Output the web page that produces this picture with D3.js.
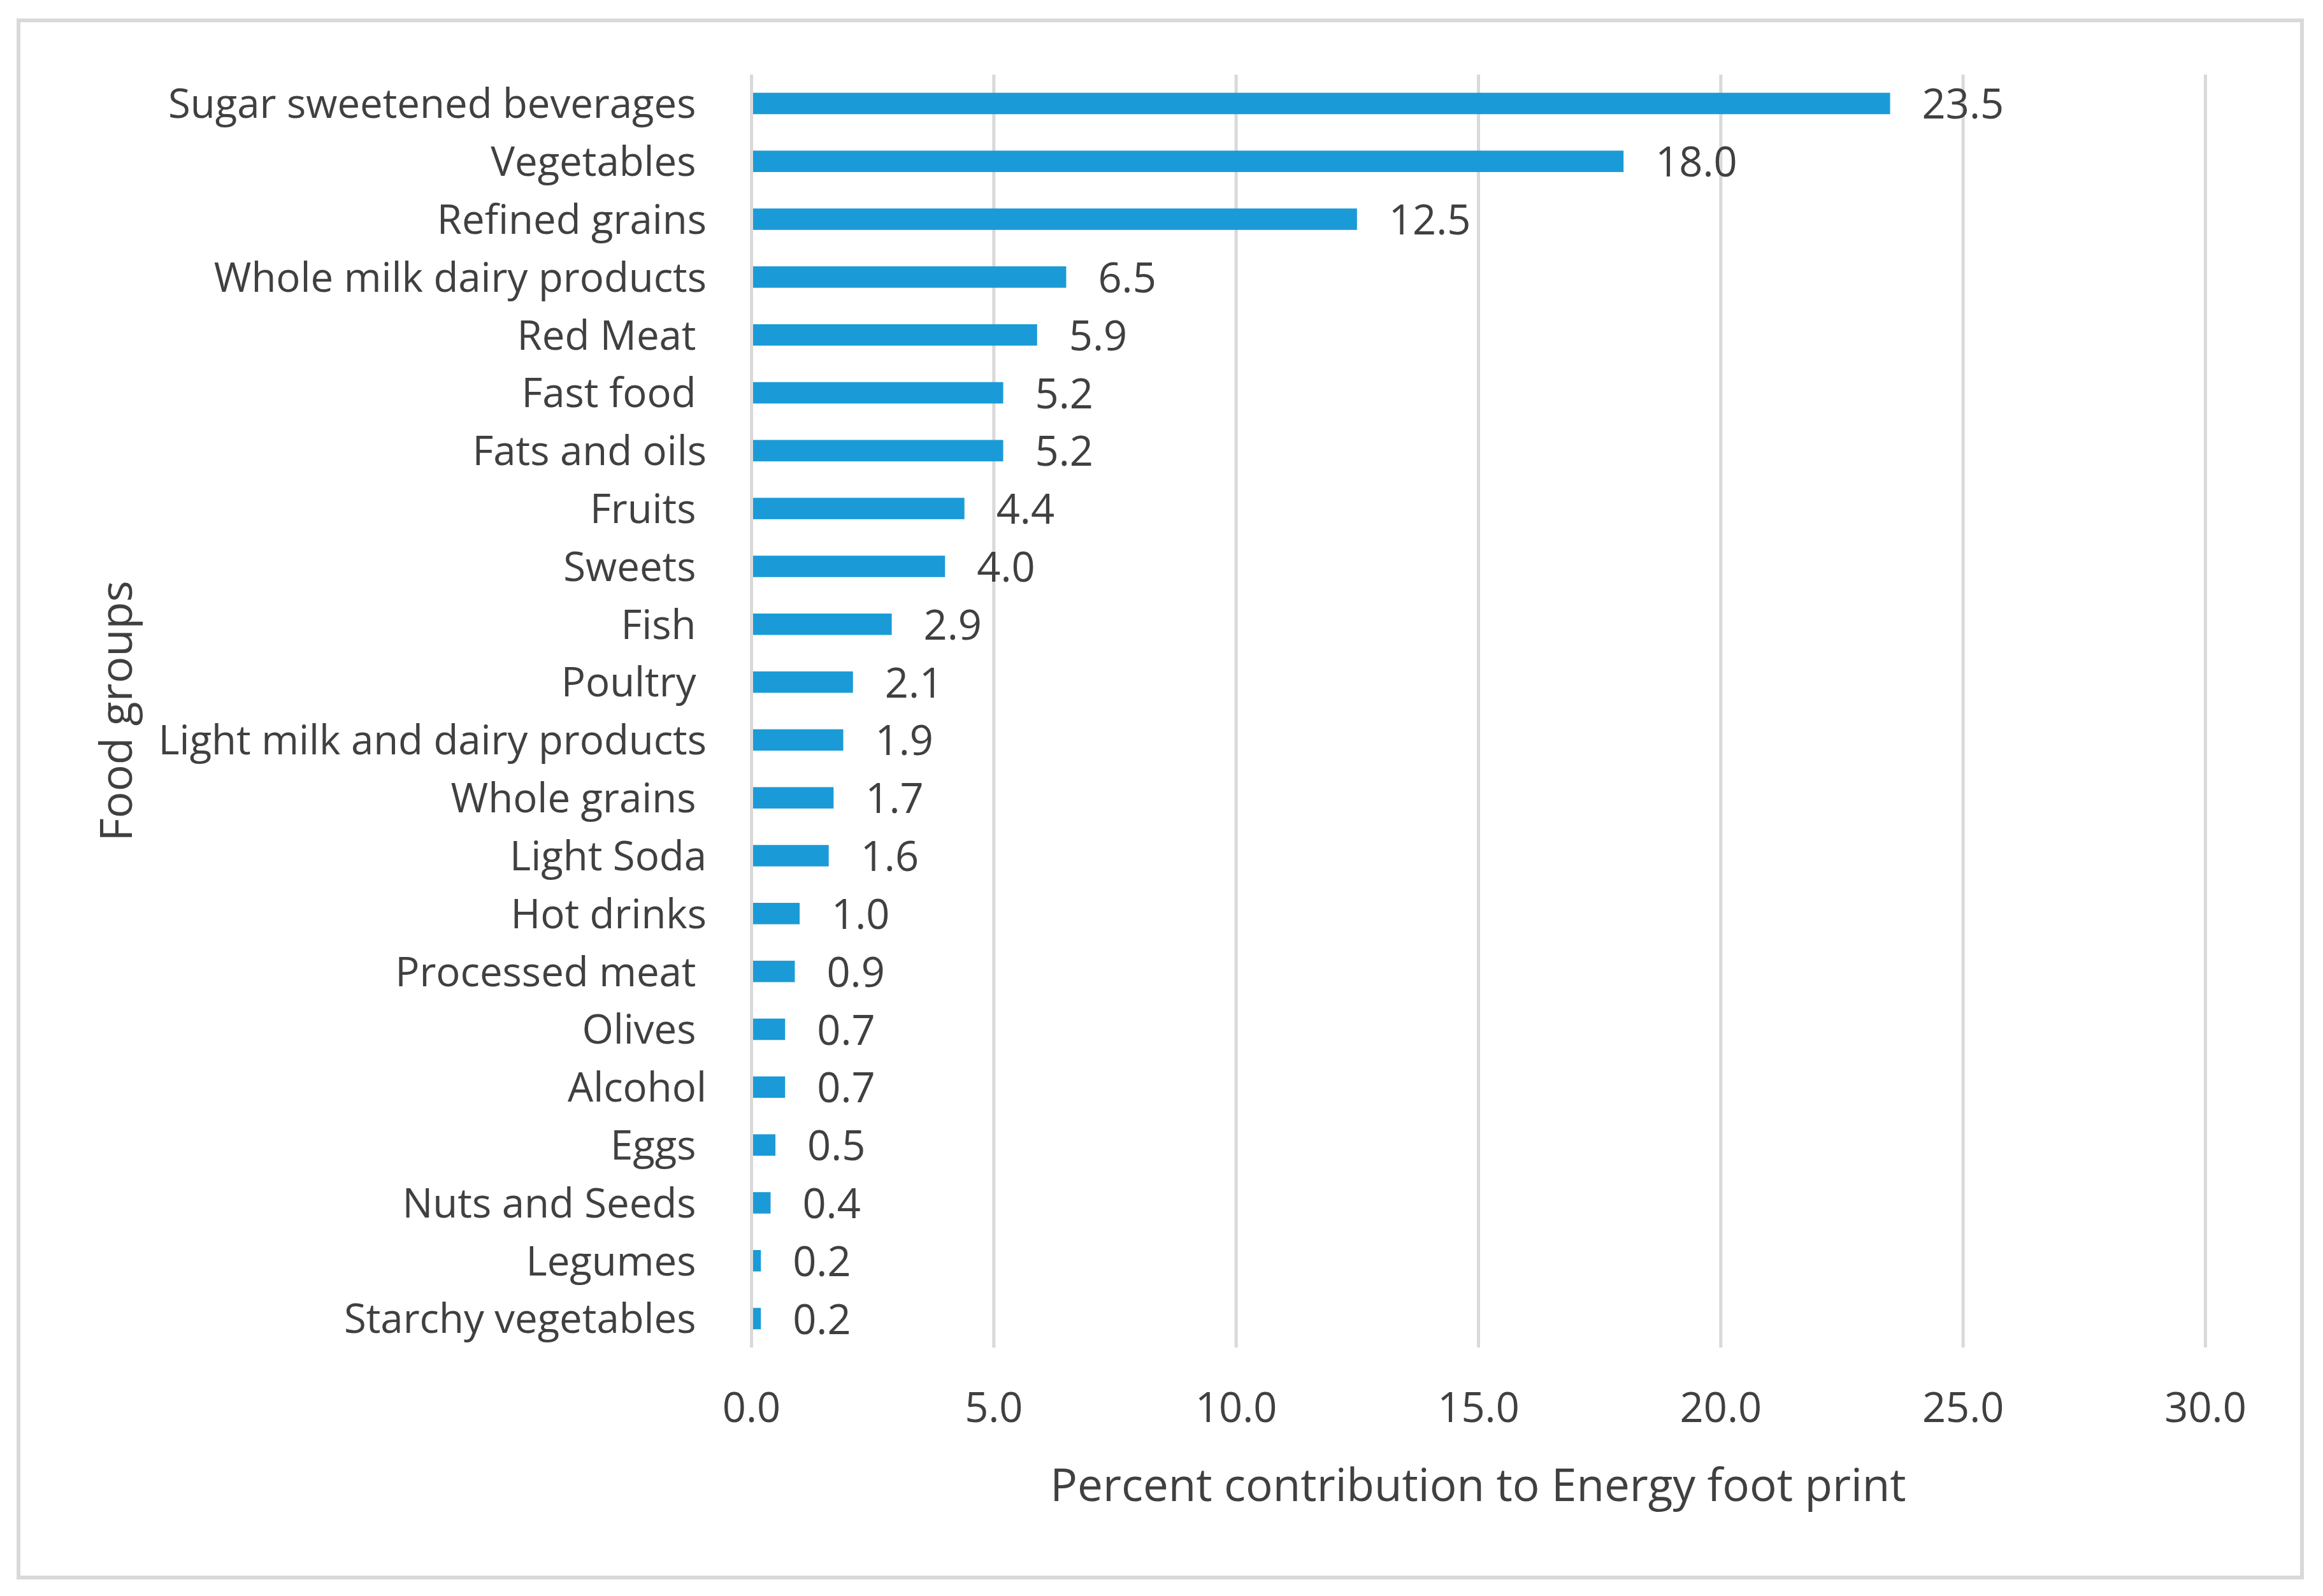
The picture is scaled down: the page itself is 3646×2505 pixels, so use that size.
<!DOCTYPE html>
<html>
<head>
<meta charset="utf-8">
<script src="https://cdn.jsdelivr.net/npm/d3@7/dist/d3.min.js"></script>
<style>
  html, body { margin: 0; padding: 0; background: #ffffff; }
  svg { display: block; }
  text { font-family: "Open Sans", "Noto Sans", sans-serif; fill: #404040; white-space: pre; }
</style>
</head>
<body>
<script>
// ---- Data ----
const categories = [
  "Sugar sweetened beverages ", "Vegetables ", "Refined grains", "Whole milk dairy products",
  "Red Meat ", "Fast food ", "Fats and oils", "Fruits ", "Sweets ", "Fish ", "Poultry ",
  "Light milk and dairy products", "Whole grains ", "Light Soda", "Hot drinks",
  "Processed meat ", "Olives ", "Alcohol", "Eggs ", "Nuts and Seeds ", "Legumes ",
  "Starchy vegetables "
];
const values = [23.5, 18.0, 12.5, 6.5, 5.9, 5.2, 5.2, 4.4, 4.0, 2.9, 2.1, 1.9, 1.7, 1.6, 1.0, 0.9, 0.7, 0.7, 0.5, 0.4, 0.2, 0.2];
const xTicks = [0, 5, 10, 15, 20, 25, 30];
const xTitle = "Percent contribution to Energy foot print";
const yTitle = "Food groups";

// ---- Layout ----
const W = 3646, H = 2505;
const plot = { left: 1179, right: 3461, top: 117, bottom: 2115 };

const svg = d3.select("body").append("svg")
  .attr("width", W).attr("height", H).attr("viewBox", `0 0 ${W} ${H}`);

svg.append("rect").attr("x", 0).attr("y", 0).attr("width", W).attr("height", H).attr("fill", "#ffffff");

// outer frame
svg.append("rect")
  .attr("x", 29).attr("y", 32).attr("width", 3584).attr("height", 2444)
  .attr("fill", "none").attr("stroke", "#d9d9d9").attr("stroke-width", 6);

const data = categories.map((c, i) => ({ cat: c, val: values[i] }));

const x = d3.scaleLinear().domain([0, 30]).range([plot.left, plot.right]);
const y = d3.scaleBand().domain(categories).range([plot.top, plot.bottom]).paddingInner(0.63).paddingOuter(0.315);

// gridlines
const grid = svg.append("g").attr("transform", `translate(0,${plot.top})`)
  .call(d3.axisBottom(x).tickValues(xTicks).tickSize(plot.bottom - plot.top).tickFormat(""));
grid.select(".domain").remove();
grid.selectAll(".tick line").attr("stroke", "#d9d9d9").attr("stroke-width", 5);

// bars
svg.append("g").selectAll("rect").data(data).join("rect")
  .attr("x", x(0) + 3)
  .attr("y", d => y(d.cat))
  .attr("width", d => Math.max(0, x(d.val) - x(0) - 3))
  .attr("height", y.bandwidth())
  .attr("fill", "#1a9bd7");

// value labels
svg.append("g").selectAll("text").data(data).join("text")
  .attr("x", d => x(d.val) + 50)
  .attr("y", d => y(d.cat) + y.bandwidth() / 2 + 24)
  .attr("font-size", 65)
  .text(d => d3.format(".1f")(d.val));

// category labels
const yAxis = svg.append("g").attr("transform", `translate(${plot.left},0)`)
  .call(d3.axisLeft(y).tickSize(0).tickPadding(70));
yAxis.select(".domain").remove();
yAxis.selectAll(".tick text")
  .attr("font-size", 63.5)
  .attr("fill", "#404040")
  .style("font-family", '"Open Sans", "Noto Sans", sans-serif')
  .attr("dy", "0.36em");

// x tick labels
const xAxis = svg.append("g").attr("transform", `translate(0,${plot.bottom})`)
  .call(d3.axisBottom(x).tickValues(xTicks).tickSize(0).tickPadding(0).tickFormat(d3.format(".1f")));
xAxis.select(".domain").remove();
xAxis.selectAll(".tick text")
  .attr("font-size", 65)
  .attr("fill", "#404040")
  .style("font-family", '"Open Sans", "Noto Sans", sans-serif')
  .attr("dy", null)
  .attr("y", 117);

// axis titles
svg.append("text")
  .attr("x", (plot.left + plot.right) / 2).attr("y", 2356)
  .attr("text-anchor", "middle").attr("font-size", 71)
  .text(xTitle);

svg.append("text")
  .attr("transform", `translate(207,${(plot.top + plot.bottom) / 2}) rotate(-90)`)
  .attr("text-anchor", "middle").attr("font-size", 70)
  .text(yTitle);
</script>
</body>
</html>
